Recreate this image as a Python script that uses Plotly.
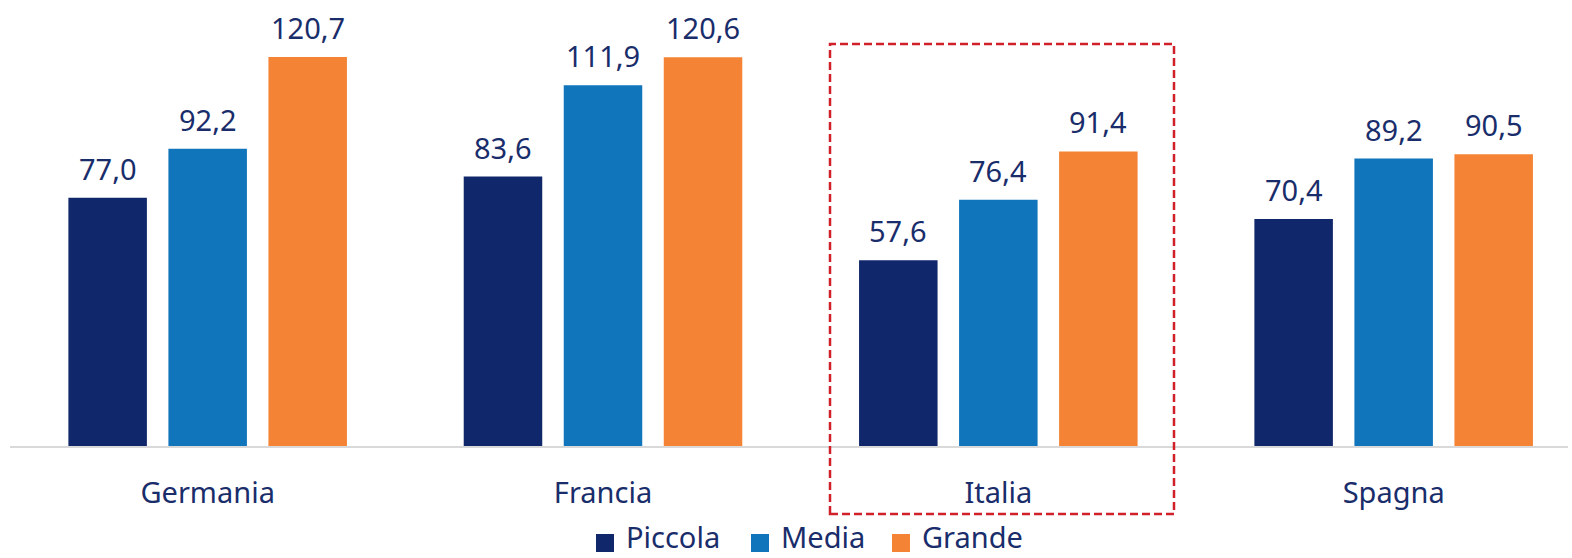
import plotly.graph_objects as go

# Categories and series
paesi = ["Germania", "Francia", "Italia", "Spagna"]
serie = ["Piccola", "Media", "Grande"]
piccola = [77.0, 83.6, 57.6, 70.4]
media = [92.2, 111.9, 76.4, 89.2]
grande = [120.7, 120.6, 91.4, 90.5]
valori = [piccola, media, grande]
colori = ["#10286b", "#1175bc", "#f58335"]

TEXT = "#1a2d6b"
FONT = "Noto Sans"

W, H = 1572, 558
ML, MR, MT, MB = 10, 4, 27, 112
plot_w = W - ML - MR
plot_h = H - MT - MB
Y_MAX = 130
X_RANGE = [-0.5, 3.441]
cat_px = plot_w / (X_RANGE[1] - X_RANGE[0])
BARGAP = 0.241
slot_px = cat_px * (1 - BARGAP) / 3

fig = go.Figure()
for nome, vals, col in zip(serie, valori, colori):
    fig.add_trace(go.Bar(
        x=paesi, y=vals, name=nome, marker=dict(color=col, line=dict(width=0)),
        showlegend=False,
    ))

# value labels above each bar
annotations = []
for i, vals in enumerate(valori):
    for p, v in zip(paesi, vals):
        annotations.append(dict(
            x=p, y=v, xref="x", yref="y", text=f"{v:.1f}".replace(".", ","),
            showarrow=False, xanchor="center", yanchor="bottom",
            xshift=(i - 1) * slot_px, yshift=8,
            font=dict(family=FONT, size=29, color=TEXT),
        ))

# legend drawn below the axis
def px_x(px):
    return (px - ML) / plot_w

def px_y(py):
    return (H - MB - py) / plot_h

shapes = []
leg_sq = [596, 751, 892]
for nome, col, sx in zip(serie, colori, leg_sq):
    shapes.append(dict(type="rect", xref="paper", yref="paper",
                       x0=px_x(sx), x1=px_x(sx + 18), y0=px_y(552), y1=px_y(534),
                       fillcolor=col, line=dict(width=0)))
    annotations.append(dict(x=px_x(sx + 28), y=px_y(558), xref="paper", yref="paper",
                            text=nome, showarrow=False, xanchor="left", yanchor="bottom",
                            font=dict(family=FONT, size=29, color=TEXT)))

# highlight box around Italia
shapes.append(dict(type="rect", xref="paper", yref="paper",
                   x0=px_x(830), x1=px_x(1174), y0=px_y(514), y1=px_y(44),
                   line=dict(color="#d0202a", width=2.5, dash="8px,4px"),
                   fillcolor="rgba(0,0,0,0)"))

fig.update_layout(
    width=W, height=H,
    margin=dict(l=ML, r=MR, t=MT, b=MB),
    paper_bgcolor="white", plot_bgcolor="white",
    barmode="group", bargap=BARGAP, bargroupgap=0.215,
    separators=",.",
    annotations=annotations, shapes=shapes,
    xaxis=dict(range=X_RANGE, showgrid=False, showline=True, linecolor="#d9d9d9",
               linewidth=1.5, ticks="outside", ticklen=20, tickcolor="rgba(0,0,0,0)",
               tickfont=dict(family=FONT, size=29, color=TEXT)),
    yaxis=dict(range=[0, Y_MAX], visible=False, showgrid=False),
    font=dict(family=FONT, color=TEXT),
)

fig.write_html("out.html")
